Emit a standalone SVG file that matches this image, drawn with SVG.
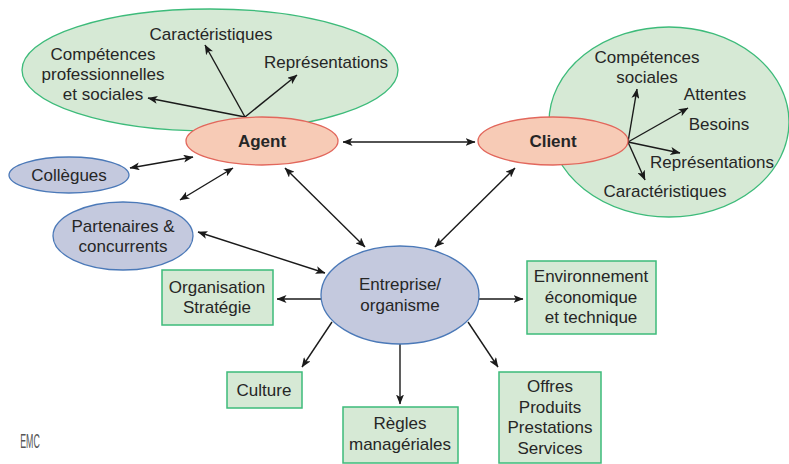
<svg xmlns="http://www.w3.org/2000/svg" width="789" height="464" viewBox="0 0 789 464">
<defs>
<marker id="ah" viewBox="0 0 10 8" refX="9.5" refY="4" markerWidth="10" markerHeight="8" markerUnits="userSpaceOnUse" orient="auto-start-reverse">
<path d="M0,0 L10,4 L0,8 L2.5,4 Z" fill="#1a1a1a"/>
</marker>
</defs>
<style>
text{font-family:"Liberation Sans",Arial,sans-serif;font-size:17px;fill:#262626;text-anchor:middle}
.b{font-weight:bold}
.grn{fill:#d6e9d5;stroke:#3dbb7a;stroke-width:1.3}
.org{fill:#f7cbb6;stroke:#e2675c;stroke-width:1.3}
.blu{fill:#c4c9de;stroke:#4b79b8;stroke-width:1.3}
.box{fill:#d6e9d5;stroke:#3dbb7a;stroke-width:1.5}
.c line{stroke:#1a1a1a;stroke-width:1.4}
.one{marker-end:url(#ah)}
.two{marker-start:url(#ah);marker-end:url(#ah)}
</style>
<rect width="789" height="464" fill="#fff"/>
<g id="agent-sphere"><ellipse class="grn" cx="210" cy="70" rx="188" ry="61"/></g>
<g id="client-sphere"><ellipse class="grn" cx="669" cy="122" rx="120" ry="95"/></g>
<g class="c" id="connectors">
<line class="one" x1="245" y1="117" x2="205" y2="45"/>
<line class="one" x1="245" y1="117" x2="297" y2="75"/>
<line class="one" x1="245" y1="117" x2="148" y2="98"/>
<line class="one" x1="628" y1="142" x2="637" y2="89"/>
<line class="one" x1="628" y1="142" x2="688" y2="108"/>
<line class="one" x1="628" y1="142" x2="680" y2="153"/>
<line class="one" x1="628" y1="142" x2="645" y2="180"/>
<line class="two" x1="343" y1="142" x2="475" y2="142"/>
<line class="two" x1="130" y1="168" x2="193" y2="157"/>
<line class="two" x1="180" y1="200" x2="233" y2="168"/>
<line class="two" x1="285" y1="168" x2="365" y2="247"/>
<line class="two" x1="515" y1="168" x2="435" y2="247"/>
<line class="two" x1="198" y1="232" x2="325" y2="273"/>
<line class="one" x1="321" y1="299" x2="277" y2="299"/>
<line class="one" x1="332" y1="322" x2="302" y2="367"/>
<line class="one" x1="400" y1="344" x2="400" y2="404"/>
<line class="one" x1="479" y1="299" x2="523" y2="299"/>
<line class="one" x1="468" y1="322" x2="498" y2="367"/>
</g>
<g id="agent-attrs">
<text x="211" y="40">Caractéristiques</text>
<text x="326" y="68">Représentations</text>
<text x="103" y="60">Compétences</text>
<text x="103" y="80">professionnelles</text>
<text x="103" y="100">et sociales</text>
</g>
<g id="client-attrs">
<text x="647" y="63">Compétences</text>
<text x="647" y="83">sociales</text>
<text x="715" y="100">Attentes</text>
<text x="719" y="130">Besoins</text>
<text x="712" y="168">Représentations</text>
<text x="665" y="197">Caractéristiques</text>
</g>
<g id="agent"><ellipse class="org" cx="262" cy="141" rx="76" ry="24"/><text class="b" x="262" y="147">Agent</text></g>
<g id="client"><ellipse class="org" cx="553" cy="141" rx="75" ry="24"/><text class="b" x="553" y="147">Client</text></g>
<g id="collegues"><ellipse class="blu" cx="69" cy="175" rx="60" ry="18"/><text x="69" y="181">Collègues</text></g>
<g id="partenaires"><ellipse class="blu" cx="123" cy="236" rx="70" ry="34"/><text x="123" y="232">Partenaires &amp;</text><text x="123" y="252">concurrents</text></g>
<g id="entreprise"><ellipse class="blu" cx="400" cy="295" rx="79" ry="49"/><text x="400" y="290">Entreprise/</text><text x="400" y="311">organisme</text></g>
<g id="organisation"><rect class="box" x="162" y="270" width="111" height="55"/><text x="217" y="293">Organisation</text><text x="217" y="313">Stratégie</text></g>
<g id="culture"><rect class="box" x="227" y="372" width="75" height="36"/><text x="264" y="396">Culture</text></g>
<g id="regles"><rect class="box" x="343" y="407" width="115" height="56"/><text x="400" y="429">Règles</text><text x="400" y="450">managériales</text></g>
<g id="environnement"><rect class="box" x="527" y="261" width="129" height="73"/><text x="591" y="282">Environnement</text><text x="591" y="303">économique</text><text x="591" y="323">et technique</text></g>
<g id="offres"><rect class="box" x="499" y="372" width="102" height="91"/><text x="550" y="392">Offres</text><text x="550" y="413">Produits</text><text x="550" y="433">Prestations</text><text x="550" y="454">Services</text></g>
<g id="logo"><text transform="translate(30,448) scale(0.42,1)" style="font-size:21px;fill:#555">EMC</text></g>
</svg>
